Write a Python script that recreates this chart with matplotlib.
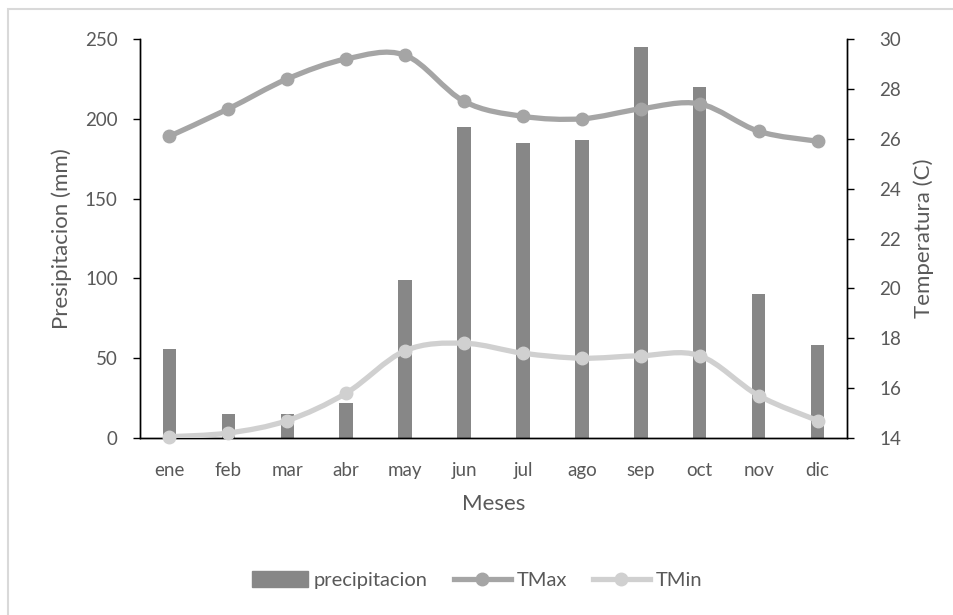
import numpy as np
import matplotlib
matplotlib.use("Agg")
from matplotlib import pyplot as plt
from matplotlib.path import Path
from matplotlib.patches import PathPatch, Rectangle
from matplotlib.lines import Line2D

meses = ['ene', 'feb', 'mar', 'abr', 'may', 'jun', 'jul', 'ago', 'sep', 'oct', 'nov', 'dic']
precipitacion = [56, 15, 15, 22, 99, 195, 185, 187, 245, 220, 90, 58]
tmax = [26.1, 27.2, 28.4, 29.2, 29.35, 27.5, 26.9, 26.8, 27.2, 27.4, 26.3, 25.9]
tmin = [14.05, 14.2, 14.7, 15.8, 17.5, 17.8, 17.4, 17.2, 17.3, 17.3, 15.7, 14.7]

c_bar = '#878787'
c_max = '#a5a5a5'
c_min = '#d0d0d0'
c_txt = '#595959'

plt.rcParams['font.family'] = ['Lato', 'DejaVu Sans']


def smooth_path(x, y, t=1/6):
    # Excel-like smoothed line: cubic bezier through the points
    x = np.asarray(x, float)
    y = np.asarray(y, float)
    verts = [(x[0], y[0])]
    codes = [Path.MOVETO]
    n = len(x)
    for i in range(n - 1):
        x0, y0 = (x[i-1], y[i-1]) if i > 0 else (x[i], y[i])
        x3, y3 = (x[i+2], y[i+2]) if i + 2 < n else (x[i+1], y[i+1])
        c1 = (x[i] + (x[i+1] - x0) * t, y[i] + (y[i+1] - y0) * t)
        c2 = (x[i+1] - (x3 - x[i]) * t, y[i+1] - (y3 - y[i]) * t)
        verts += [c1, c2, (x[i+1], y[i+1])]
        codes += [Path.CURVE4] * 3
    return Path(verts, codes)


fig = plt.figure(figsize=(9.54, 6.15), dpi=100)
ax = fig.add_axes([140/954, 1 - 438/615, 707/954, 399/615])
ax2 = ax.twinx()

x = np.arange(len(meses))
ax.bar(x, precipitacion, width=0.23, color=c_bar, zorder=2)
ax.set_xlim(-0.5, len(meses) - 0.5)
ax.set_ylim(0, 250)
ax.set_yticks(range(0, 251, 50))
ax.set_xticks(x)
ax.set_xticklabels(meses)

for vals, col in [(tmax, c_max), (tmin, c_min)]:
    ax2.add_patch(PathPatch(smooth_path(x, vals), facecolor='none', edgecolor=col,
                            lw=3.8, capstyle='round', joinstyle='round', zorder=3))
    ax2.plot(x, vals, 'o', color=col, ms=9, zorder=4, clip_on=False)
ax2.set_ylim(14, 30)
ax2.set_yticks(range(14, 31, 2))

for a in (ax, ax2):
    a.spines['top'].set_visible(False)
    for s in ('left', 'right', 'bottom'):
        a.spines[s].set_color('#000000')
        a.spines[s].set_linewidth(1.0)
    a.tick_params(labelsize=13.5, colors='#000000', labelcolor=c_txt, length=5, width=1)
ax.tick_params(axis='x', length=0, pad=17)
ax.tick_params(axis='y', pad=11)
ax2.tick_params(axis='y', pad=18)

ax.set_ylabel('Presipitacion (mm)', fontsize=16, color=c_txt, labelpad=9)
ax2.set_ylabel('Temperatura (C)', fontsize=16, color=c_txt, labelpad=9)
ax.set_xlabel('Meses', fontsize=16, color=c_txt, labelpad=11)

handles = [
    Rectangle((0, 0), 1, 1, color=c_bar),
    Line2D([], [], color=c_max, lw=3.8, marker='o', ms=9),
    Line2D([], [], color=c_min, lw=3.8, marker='o', ms=9),
]
fig.legend(handles, ['precipitacion', 'TMax', 'TMin'], loc='center',
           bbox_to_anchor=(0.5, 1 - 580/615), ncol=3, frameon=False,
           fontsize=14.5, labelcolor=c_txt, handlelength=2.8, handleheight=0.8,
           columnspacing=1.3, handletextpad=0.3)

fig.patches.append(Rectangle((8/954, -0.05), 1.1, 1 - 9/615 + 0.05,
                             transform=fig.transFigure, fill=False,
                             edgecolor='#d9d9d9', lw=1.5))

fig.savefig('out.png', dpi=100)
